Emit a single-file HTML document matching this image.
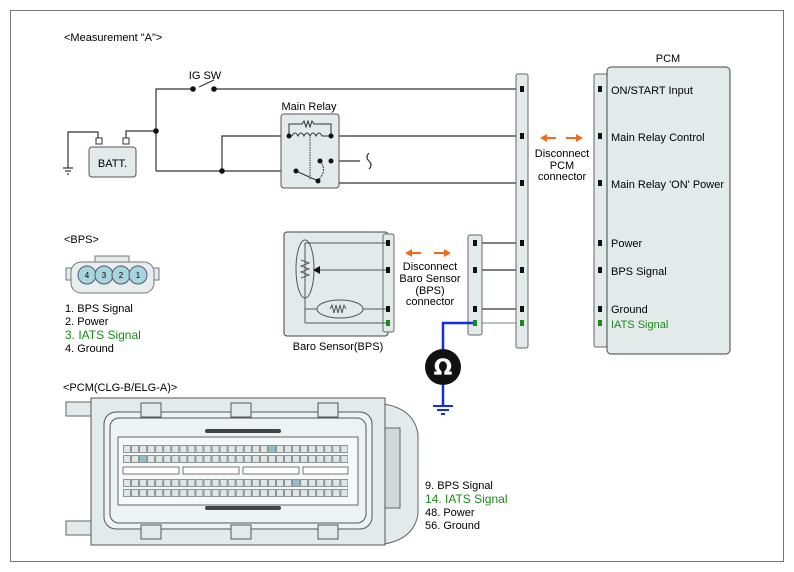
<!DOCTYPE html>
<html><head><meta charset="utf-8"><style>
html,body{margin:0;padding:0;background:#fff;}
svg{display:block;font-family:"Liberation Sans",Arial,sans-serif;}
</style></head><body>
<svg width="794" height="572" viewBox="0 0 794 572" xmlns="http://www.w3.org/2000/svg">
<defs>
<pattern id="pins" x="123" y="445" width="8.05" height="10" patternUnits="userSpaceOnUse">
<rect x="0.5" y="0.5" width="7" height="7" fill="#dfe6e6" stroke="#555" stroke-width="0.6"/>
</pattern>
<pattern id="pins2" x="123" y="479" width="8.05" height="10" patternUnits="userSpaceOnUse">
<rect x="0.5" y="0.5" width="7" height="7" fill="#dfe6e6" stroke="#555" stroke-width="0.6"/>
</pattern>
</defs>
<rect x="10.5" y="10.5" width="773" height="551" fill="none" stroke="#777" stroke-width="1"/>
<text x="64" y="41" font-size="11">&lt;Measurement "A"&gt;</text>
<text x="205" y="79" font-size="11" text-anchor="middle">IG SW</text>

<!-- wiring -->
<g stroke="#333" stroke-width="1.2" fill="none">
<polyline points="156,171 156,89 193,89"/>
<line x1="199" y1="87" x2="214" y2="80"/>
<line x1="214" y1="89" x2="522" y2="89"/>
<polyline points="126,143 126,131 156,131"/>
<polyline points="98,143 98,132 68,132 68,168"/>
<line x1="63" y1="168" x2="73" y2="168"/><line x1="65" y1="171" x2="71" y2="171"/><line x1="67" y1="174" x2="69" y2="174"/>
<line x1="156" y1="171" x2="296" y2="171"/>
<polyline points="222,171 222,136 289,136"/>
<line x1="331" y1="136" x2="522" y2="136"/>
<polyline points="331,161 360,161"/>
<path d="M369,153 q-4,4 0,8 q4,4 0,8"/>
<polyline points="332,161 332,183 522,183"/>
<line x1="478" y1="243" x2="522" y2="243"/>
<line x1="478" y1="270" x2="522" y2="270"/>
<line x1="478" y1="309" x2="522" y2="309"/>
<line x1="478" y1="323" x2="522" y2="323" stroke="#999"/>
</g>
<g fill="#111">
<circle cx="193" cy="89" r="2.8"/><circle cx="214" cy="89" r="2.8"/>
<circle cx="156" cy="131" r="2.8"/><circle cx="222" cy="171" r="2.8"/>
</g>
<!-- battery -->
<rect x="96" y="138" width="6" height="6" fill="#fff" stroke="#333"/>
<rect x="123" y="138" width="6" height="6" fill="#fff" stroke="#333"/>
<rect x="89" y="147" width="47" height="30" rx="3" fill="#e3eaea" stroke="#555"/>
<text x="112.5" y="167" font-size="11" text-anchor="middle">BATT.</text>
<!-- relay -->
<text x="309" y="110" font-size="11" text-anchor="middle">Main Relay</text>
<rect x="281" y="114" width="58" height="74" rx="3" fill="#e3eaea" stroke="#555"/>
<g stroke="#333" stroke-width="1" fill="none">
<polyline points="289,136 289,124 302,124 304,121 306,127 308,121 310,127 312,121 314,124 331,124 331,136"/>
<path d="M292,136 q3,-6 6,0 q3,-6 6,0 q3,-6 6,0 q3,-6 6,0 q3,-6 6,0"/>
<line x1="289" y1="136" x2="292" y2="136"/><line x1="322" y1="136" x2="331" y2="136"/>
<line x1="310" y1="137" x2="310" y2="180" stroke-dasharray="1.5,1"/>
<line x1="296" y1="171" x2="316" y2="180"/>
<path d="M320,161 q8,10 -2,19" stroke-dasharray="2,1"/>
</g>
<g fill="#111"><circle cx="289" cy="136" r="2.5"/><circle cx="331" cy="136" r="2.5"/><circle cx="320" cy="161" r="2.5"/><circle cx="331" cy="161" r="2.5"/><circle cx="296" cy="171" r="2.5"/><circle cx="318" cy="181" r="2.5"/></g>

<!-- PCM side connector -->
<rect x="516" y="74" width="12" height="274" rx="2" fill="#e3eaea" stroke="#666"/>
<g fill="#111">
<rect x="520" y="86" width="4" height="6"/><rect x="520" y="133" width="4" height="6"/><rect x="520" y="180" width="4" height="6"/>
<rect x="520" y="240" width="4" height="6"/><rect x="520" y="267" width="4" height="6"/><rect x="520" y="306" width="4" height="6"/>
</g>
<rect x="520" y="320" width="4" height="6" fill="#1a8a1a"/>

<!-- orange arrows -->
<g stroke="#f26b1d" stroke-width="2" fill="#f26b1d">
<line x1="545" y1="138" x2="556" y2="138"/><polygon points="540,138 547,134 547,142" stroke="none"/>
<line x1="566" y1="138" x2="577" y2="138"/><polygon points="583,138 576,134 576,142" stroke="none"/>
<line x1="410" y1="253" x2="421" y2="253"/><polygon points="405,253 412,249 412,257" stroke="none"/>
<line x1="434" y1="253" x2="445" y2="253"/><polygon points="451,253 444,249 444,257" stroke="none"/>
</g>
<g font-size="11" text-anchor="middle">
<text x="562" y="157">Disconnect</text><text x="562" y="169">PCM</text><text x="562" y="180">connector</text>
<text x="430" y="270">Disconnect</text><text x="430" y="282">Baro Sensor</text><text x="430" y="294">(BPS)</text><text x="430" y="305">connector</text>
</g>

<!-- PCM -->
<text x="668" y="62" font-size="11" text-anchor="middle">PCM</text>
<rect x="594" y="74" width="14" height="273" rx="2" fill="#e3eaea" stroke="#666"/>
<rect x="607" y="67" width="123" height="287" rx="4" fill="#e3eaea" stroke="#444"/>
<g fill="#111">
<rect x="598" y="86" width="4" height="6"/><rect x="598" y="133" width="4" height="6"/><rect x="598" y="180" width="4" height="6"/>
<rect x="598" y="240" width="4" height="6"/><rect x="598" y="267" width="4" height="6"/><rect x="598" y="306" width="4" height="6"/>
</g>
<rect x="598" y="320" width="4" height="6" fill="#1a8a1a"/>
<g font-size="11">
<text x="611" y="94">ON/START Input</text>
<text x="611" y="141">Main Relay Control</text>
<text x="611" y="188">Main Relay 'ON' Power</text>
<text x="611" y="247">Power</text>
<text x="611" y="275">BPS Signal</text>
<text x="611" y="313">Ground</text>
<text x="611" y="328" fill="#1a8a1a">IATS Signal</text>
</g>

<!-- Baro sensor -->
<rect x="284" y="232" width="104" height="104" rx="3" fill="#e3eaea" stroke="#444"/>
<rect x="383" y="234" width="11" height="98" rx="2" fill="#e3eaea" stroke="#666"/>
<g stroke="#555" stroke-width="1" fill="none">
<polyline points="305,243 386,243"/>
<line x1="305" y1="243" x2="305" y2="323"/>
<ellipse cx="305" cy="269" rx="9" ry="29"/>
<polyline points="301,260 309,263 301,266 309,269 301,272 309,275 301,278"/>
<line x1="318" y1="270" x2="386" y2="270"/>
<line x1="305" y1="309" x2="386" y2="309"/>
<ellipse cx="340" cy="309" rx="23" ry="9" fill="#e3eaea"/>
<polyline points="330,309 332,305 334,313 336,305 338,313 340,305 342,313 344,305 346,309"/>
<line x1="305" y1="323" x2="386" y2="323"/>
</g>
<polygon points="313,270 320,266 320,274" fill="#111"/>
<g fill="#111"><rect x="386" y="240" width="4" height="6"/><rect x="386" y="267" width="4" height="6"/><rect x="386" y="306" width="4" height="6"/></g>
<rect x="386" y="320" width="4" height="6" fill="#1a8a1a"/>
<text x="338" y="350" font-size="11" text-anchor="middle">Baro Sensor(BPS)</text>

<!-- BPS side connector -->
<rect x="468" y="235" width="14" height="100" rx="2" fill="#e3eaea" stroke="#666"/>
<g fill="#111"><rect x="473" y="240" width="4" height="6"/><rect x="473" y="267" width="4" height="6"/><rect x="473" y="306" width="4" height="6"/></g>
<rect x="473" y="320" width="4" height="6" fill="#1a8a1a"/>

<!-- blue meter wire -->
<polyline points="473,323 443,323 443,352" stroke="#1030e0" stroke-width="2.5" fill="none"/>
<line x1="443" y1="384" x2="443" y2="405" stroke="#1030e0" stroke-width="2.5"/>
<g stroke="#1030e0" stroke-width="2"><line x1="433" y1="406" x2="453" y2="406"/><line x1="437" y1="410" x2="449" y2="410"/><line x1="441" y1="414" x2="445" y2="414"/></g>
<circle cx="443" cy="367" r="18" fill="#111"/>
<text x="443" y="375" font-size="22" font-weight="bold" fill="#fff" text-anchor="middle" font-family="DejaVu Sans, sans-serif">Ω</text>

<!-- BPS connector face -->
<text x="64" y="243" font-size="11">&lt;BPS&gt;</text>
<rect x="95" y="256" width="34" height="8" fill="#e3eaea" stroke="#777"/>
<rect x="66" y="268" width="6" height="12" fill="#e3eaea" stroke="#777"/>
<rect x="153" y="268" width="6" height="12" fill="#e3eaea" stroke="#777"/>
<rect x="71" y="262" width="83" height="31" rx="10" fill="#e8eeee" stroke="#777"/>
<g fill="#a8d4dc" stroke="#557">
<circle cx="87" cy="275" r="9"/><circle cx="104" cy="275" r="9"/><circle cx="121" cy="275" r="9"/><circle cx="138" cy="275" r="9"/>
</g>
<g font-size="8" text-anchor="middle"><text x="87" y="278">4</text><text x="104" y="278">3</text><text x="121" y="278">2</text><text x="138" y="278">1</text></g>
<g font-size="11">
<text x="65" y="312">1. BPS Signal</text>
<text x="65" y="325">2. Power</text>
<text x="65" y="339" fill="#1a8a1a" font-size="12">3. IATS Signal</text>
<text x="65" y="352">4. Ground</text>
</g>

<!-- PCM connector face -->
<text x="63" y="391" font-size="11">&lt;PCM(CLG-B/ELG-A)&gt;</text>
<rect x="66" y="402" width="27" height="14" fill="#e3eaea" stroke="#666"/>
<rect x="66" y="521" width="27" height="14" fill="#e3eaea" stroke="#666"/>
<path d="M384,404 q30,5 34,30 v80 q-4,25 -34,30 z" fill="#e3eaea" stroke="#666"/>
<rect x="384" y="428" width="16" height="80" fill="#d0d8d8" stroke="#666"/>
<rect x="91" y="398" width="294" height="147" fill="#e3eaea" stroke="#555"/>
<rect x="104" y="412" width="268" height="117" rx="12" fill="#edf2f2" stroke="#555"/>
<rect x="110" y="418" width="256" height="105" rx="9" fill="none" stroke="#555"/>
<rect x="118" y="437" width="240" height="68" fill="#f6f9f9" stroke="#666"/>
<g fill="#e3eaea" stroke="#555">
<rect x="141" y="403" width="20" height="14"/><rect x="231" y="403" width="20" height="14"/><rect x="318" y="403" width="20" height="14"/>
<rect x="141" y="525" width="20" height="14"/><rect x="231" y="525" width="20" height="14"/><rect x="318" y="525" width="20" height="14"/>
</g>
<rect x="123" y="445" width="225" height="18" fill="url(#pins)"/>
<rect x="123" y="479" width="225" height="18" fill="url(#pins2)"/>
<g fill="#8fbecb"><rect x="269" y="446" width="6" height="6"/><rect x="140" y="456" width="6" height="6"/><rect x="293" y="480" width="6" height="6"/></g>
<g fill="#fff" stroke="#555" stroke-width="0.8">
<rect x="123" y="467" width="56" height="7"/><rect x="183" y="467" width="56" height="7"/><rect x="243" y="467" width="56" height="7"/><rect x="303" y="467" width="45" height="7"/>
</g>
<rect x="205" y="429" width="76" height="4" rx="2" fill="#444"/>
<rect x="205" y="506" width="76" height="4" rx="2" fill="#444"/>
<g font-size="11">
<text x="425" y="489">9. BPS Signal</text>
<text x="425" y="503" fill="#1a8a1a" font-size="12">14. IATS Signal</text>
<text x="425" y="516">48. Power</text>
<text x="425" y="529">56. Ground</text>
</g>
</svg>
</body></html>
